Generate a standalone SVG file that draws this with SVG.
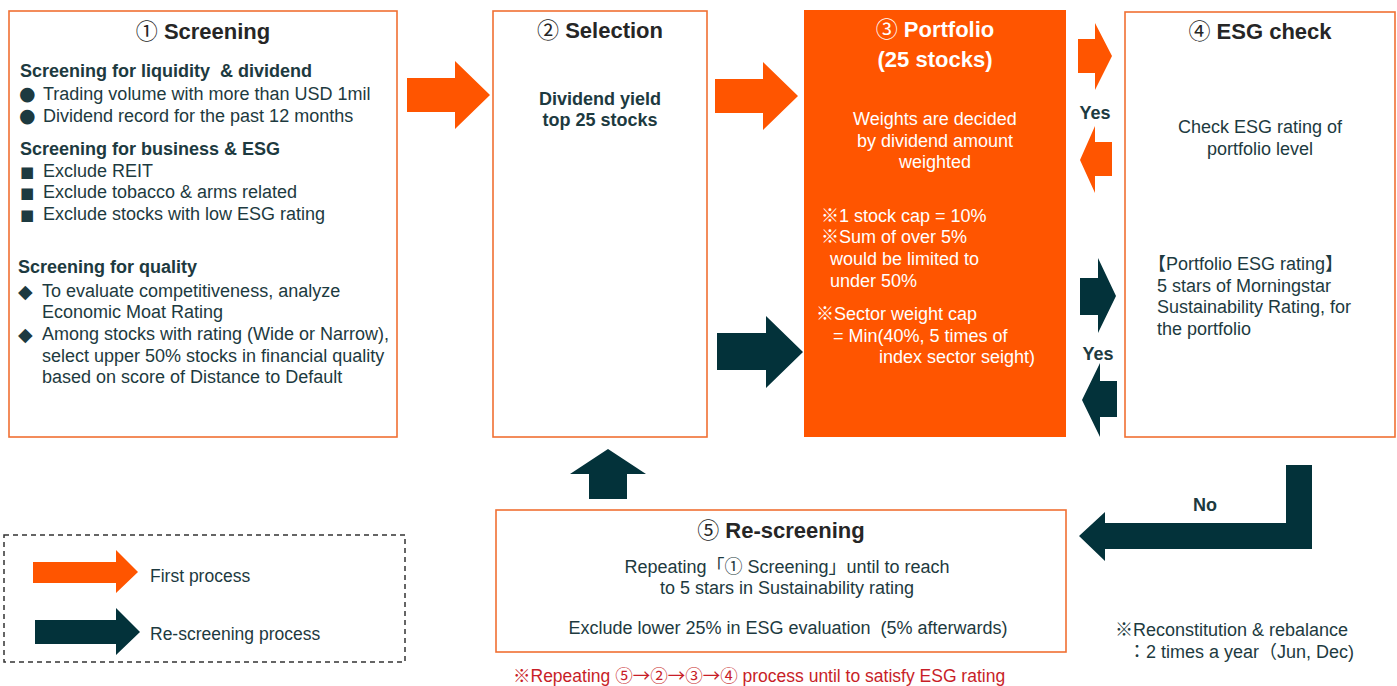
<svg xmlns="http://www.w3.org/2000/svg" width="1397" height="686" viewBox="0 0 1397 686">
<style>
text{font-family:"Liberation Sans","Noto Sans CJK JP",sans-serif;fill:#1d3a40;white-space:pre}
.box{fill:#fff;stroke:#f07033;stroke-width:1.6}
.fill{fill:#ff5500}
.title{font-size:22px;font-weight:bold;fill:#262626;text-anchor:middle}
.wtitle{font-size:22px;font-weight:bold;fill:#fff;text-anchor:middle}
.head{font-size:18px;font-weight:bold}
.body{font-size:18px}
.wbody{font-size:18px;fill:#fff}
.mid{text-anchor:middle}
.bul{font-size:19px;font-family:"DejaVu Sans",sans-serif}
.bul2{font-size:15px;font-family:"DejaVu Sans",sans-serif}
.bul3{font-size:19px;font-family:"DejaVu Sans",sans-serif}
.lbl{font-size:18px;font-weight:bold}
.or{fill:#ff5500}
.dk{fill:#03323a}
.num{font-weight:normal}
.red{font-size:17.5px;fill:#c81e28}
.cjk{font-family:"Noto Sans CJK JP",sans-serif;fill:#c81e28}
</style>
<g id="connectors">
<polygon class="or" points="407,78 455,78 455,61 490,95 455,129 455,112 407,112"/>
<polygon class="or" points="715,79 763,79 763,62 798,96 763,130 763,113 715,113"/>
<polygon class="dk" points="717,333 766,333 766,316 803,352 766,388 766,370 717,370"/>
<polygon class="or" points="1078,39 1095,39 1095,23 1112,56 1095,90 1095,73 1078,73"/>
<text class="lbl" x="1095" y="119" text-anchor="middle">Yes</text>
<polygon class="or" points="1112,142 1095,142 1095,126 1080,160 1095,193 1095,176 1112,176"/>
<polygon class="dk" points="1080,278 1098,278 1098,258 1116,296 1098,333 1098,315 1080,315"/>
<text class="lbl" x="1098" y="360" text-anchor="middle">Yes</text>
<polygon class="dk" points="1117,381 1100,381 1100,363 1082,400 1100,437 1100,417 1117,417"/>
<polygon class="dk" points="589,499 589,474 570,474 608,449 646,474 627,474 627,499"/>
<polygon class="dk" points="1286,465 1312,465 1312,549 1105,549 1105,561 1079,536 1105,512 1105,523 1286,523"/>
<text class="lbl" x="1205" y="511" text-anchor="middle">No</text>
</g>
<g id="screening">
<rect class="box" x="9" y="11" width="388" height="426"/>
<text class="title" x="203" y="39"><tspan class="num">①</tspan> Screening</text>
<text class="head" x="20" y="77">Screening for liquidity  &amp; dividend</text>
<text class="bul" x="19" y="100">●</text>
<text class="body" x="43" y="100">Trading volume with more than USD 1mil</text>
<text class="bul" x="19" y="122">●</text>
<text class="body" x="43" y="122">Dividend record for the past 12 months</text>
<text class="head" x="20" y="155">Screening for business &amp; ESG</text>
<text class="bul2" x="20" y="177">■</text>
<text class="body" x="43" y="177">Exclude REIT</text>
<text class="bul2" x="20" y="198">■</text>
<text class="body" x="43" y="198">Exclude tobacco &amp; arms related</text>
<text class="bul2" x="20" y="220">■</text>
<text class="body" x="43" y="220">Exclude stocks with low ESG rating</text>
<text class="head" x="18" y="273">Screening for quality</text>
<text class="bul3" x="18" y="298">◆</text>
<text class="body" x="42" y="297">To evaluate competitiveness, analyze</text>
<text class="body" x="42" y="318">Economic Moat Rating</text>
<text class="bul3" x="18" y="341">◆</text>
<text class="body" x="42" y="340">Among stocks with rating (Wide or Narrow),</text>
<text class="body" x="42" y="362">select upper 50% stocks in financial quality</text>
<text class="body" x="42" y="383">based on score of Distance to Default</text>
</g>
<g id="selection">
<rect class="box" x="493" y="11" width="214" height="426"/>
<text class="title" x="600" y="38"><tspan class="num">②</tspan> Selection</text>
<text class="head mid" x="600" y="105">Dividend yield</text>
<text class="head mid" x="600" y="126">top 25 stocks</text>
</g>
<g id="portfolio">
<rect class="fill" x="804" y="10" width="262" height="427"/>
<text class="wtitle" x="935" y="37"><tspan class="num">③</tspan> Portfolio</text>
<text class="wtitle" x="935" y="67">(25 stocks)</text>
<text class="wbody mid" x="935" y="125">Weights are decided</text>
<text class="wbody mid" x="935" y="147">by dividend amount</text>
<text class="wbody mid" x="935" y="168">weighted</text>
<text class="wbody" x="821" y="222">※1 stock cap = 10%</text>
<text class="wbody" x="821" y="243">※Sum of over 5%</text>
<text class="wbody" x="830" y="265">would be limited to</text>
<text class="wbody" x="830" y="287">under 50%</text>
<text class="wbody" x="816" y="320">※Sector weight cap</text>
<text class="wbody" x="833" y="342">= Min(40%, 5 times of</text>
<text class="wbody" x="879" y="363">index sector seight)</text>
</g>
<g id="esg-check">
<rect class="box" x="1125" y="12" width="270" height="425"/>
<text class="title" x="1260" y="39"><tspan class="num">④</tspan> ESG check</text>
<text class="body mid" x="1260" y="133">Check ESG rating of</text>
<text class="body mid" x="1260" y="155">portfolio level</text>
<text class="body" x="1148" y="270">【Portfolio ESG rating】</text>
<text class="body" x="1157" y="292">5 stars of Morningstar</text>
<text class="body" x="1157" y="313">Sustainability Rating, for</text>
<text class="body" x="1157" y="335">the portfolio</text>
</g>
<g id="re-screening">
<rect class="box" x="496" y="510" width="570" height="142"/>
<text class="title" x="781" y="538"><tspan class="num">⑤</tspan> Re-screening</text>
<text class="body mid" x="787" y="573">Repeating「① Screening」until to reach</text>
<text class="body mid" x="787" y="594">to 5 stars in Sustainability rating</text>
<text class="body mid" x="788" y="634">Exclude lower 25% in ESG evaluation  (5% afterwards)</text>
</g>
<g id="note-repeat">
<text class="red" x="513" y="682">※Repeating ⑤<tspan class="cjk">→</tspan>②<tspan class="cjk">→</tspan>③<tspan class="cjk">→</tspan>④ process until to satisfy ESG rating</text>
</g>
<g id="note-rebalance">
<text class="body" x="1115" y="636">※Reconstitution &amp; rebalance</text>
<text class="body" x="1128" y="658">：2 times a year（Jun, Dec)</text>
</g>
<g id="legend">
<rect x="4" y="535" width="401" height="127" fill="none" stroke="#333" stroke-width="1.5" stroke-dasharray="5,4"/>
<polygon class="or" points="33,562 116,562 116,550 138,572 116,593 116,583 33,583"/>
<text class="body" x="150" y="582" style="font-size:17.5px">First process</text>
<polygon class="dk" points="35,620 116,620 116,608 140,632 116,655 116,644 35,644"/>
<text class="body" x="150" y="640" style="font-size:17.5px">Re-screening process</text>
</g>
</svg>
